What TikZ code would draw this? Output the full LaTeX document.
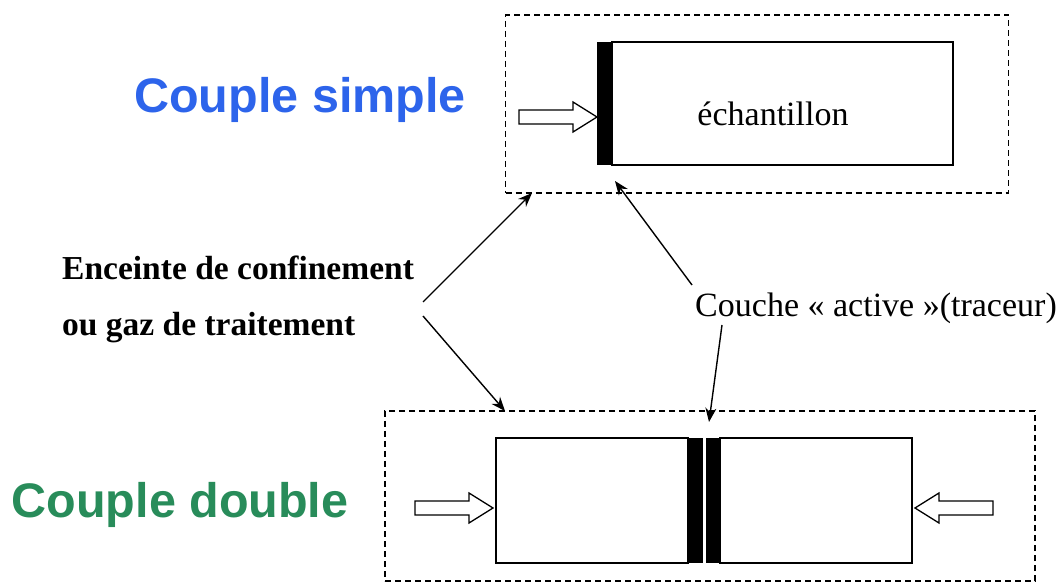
\documentclass[tikz,border=0pt]{standalone}
\usepackage{fontspec}
\setmainfont{Liberation Serif}
\newfontfamily\arialfont{Liberation Sans}
\usetikzlibrary{arrows.meta}
\definecolor{cblue}{RGB}{45,100,235}
\definecolor{cgreen}{RGB}{40,140,90}
\begin{document}
\begin{tikzpicture}[x=1pt,y=-1pt,
  enc/.style={draw, dashed, line width=1.3pt, dash pattern=on 6pt off 4pt, minimum width=#1, inner sep=0pt},
  sample/.style={draw, line width=1.3pt, fill=white, inner sep=0pt},
  tracer/.style={fill=black, inner sep=0pt, minimum width=14pt, minimum height=123pt},
  big/.style={font=\arialfont\bfseries\fontsize{48.5}{50}\selectfont, inner sep=0pt},
  lab/.style={font=\bfseries\fontsize{33.5}{35}\selectfont, inner sep=0pt, anchor=west},
  txt/.style={font=\fontsize{34}{36}\selectfont, inner sep=0pt},
  conn/.style={line width=1.4pt, -{Stealth[length=14pt,width=11pt]}},
  pics/harrow/.style={code={\draw[line width=1.3pt, fill=white] (-78,-7) -- (-24,-7) -- (-24,-15) -- (0,0) -- (-24,15) -- (-24,7) -- (-78,7) -- cycle;}}
]
\useasboundingbox (0,0) rectangle (1058,585);
% top assembly
\node[enc=503pt, minimum height=178pt] (topenc) at (757,104) {};
\node[sample, minimum width=341pt, minimum height=123pt] (ech) at (782.5,103.5) {};
\node[txt] (echlab) at (773,114) {échantillon};
\node[tracer] (bar1) at (604,103.5) {};
\pic at (597,117) {harrow};
\node[big, text=cblue] (simple) at (300,100) {Couple simple};
% bottom assembly
\node[enc=650pt, minimum height=170pt] (botenc) at (710,496) {};
\node[sample, minimum width=192pt, minimum height=125pt] (left) at (592,500.5) {};
\node[sample, minimum width=192pt, minimum height=125pt] (right) at (816,500.5) {};
\node[tracer, minimum width=15pt, minimum height=125pt] (bar2) at (695.5,500.5) {};
\node[tracer, minimum width=14pt, minimum height=125pt] (bar3) at (713,500.5) {};
\pic at (493,508) {harrow};
\pic[xscale=-1] at (915,508) {harrow};
\node[big, text=cgreen] (double) at (180,505) {Couple double};
% labels
\node[lab] (enc1) at (62,268) {Enceinte de confinement};
\node[lab] (enc2) at (62,328) {ou gaz de traitement};
\node[txt] (couche) at (876,308) {Couche « active »(traceur)};
\coordinate (s1) at (423,302);
\coordinate (s2) at (423,316);
\coordinate (e1) at (532,193);
\coordinate (e2) at (505,411);
\coordinate (s3) at (692,285);
\coordinate (e3) at (615,181);
\coordinate (s4) at (722,325);
\coordinate (e4) at (709,422);
\draw[conn] (s1) -- (e1);
\draw[conn] (s2) -- (e2);
\draw[conn] (s3) -- (e3);
\draw[conn] (s4) -- (e4);
\end{tikzpicture}
\end{document}
